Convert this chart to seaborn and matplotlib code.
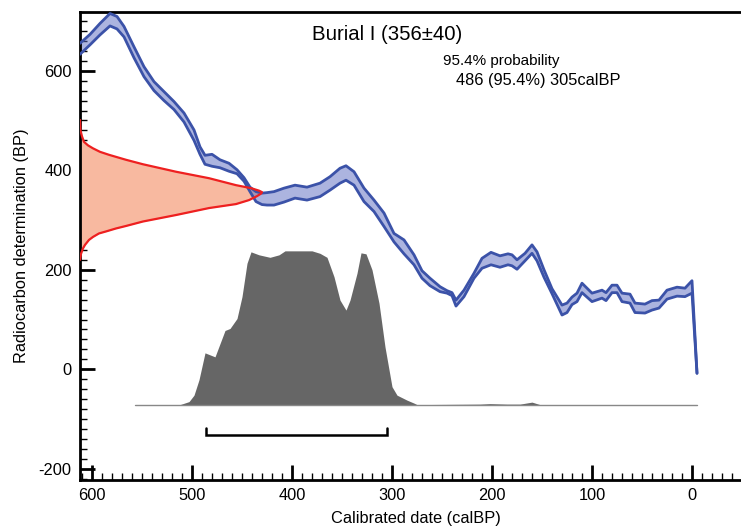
import numpy as np
import pandas as pd
import matplotlib
matplotlib.use("Agg")
import matplotlib.pyplot as plt
from matplotlib.ticker import MultipleLocator
import seaborn as sns

# ---------------- data ----------------
# calibration curve (calBP vs radiocarbon BP), upper / lower envelope
cal_years = [612, 602, 592, 582, 575, 568, 558, 548, 538, 528,
             518, 508, 498, 492, 487, 480, 472, 463, 455, 448,
             442, 436, 430, 425, 418, 408, 397, 385, 372, 362,
             352, 346, 338, 328, 318, 308, 298, 288, 278, 270,
             262, 252, 245, 240, 236, 228, 218, 210, 201, 192,
             184, 180, 175, 167, 160, 155, 148, 140, 130, 125,
             120, 115, 110, 100, 90, 86, 80, 75, 70, 62,
             57, 47, 40, 33, 25, 15, 7, 0, -5]
cal_upper = [655, 673, 695, 715, 709, 689, 648, 608, 578, 558,
             538, 515, 481, 447, 430, 432, 421, 414, 401, 385,
             366, 357, 354, 355, 357, 364, 370, 366, 374, 387,
             404, 409, 397, 364, 340, 314, 273, 260, 230, 198,
             183, 166, 158, 154, 139, 159, 193, 223, 235, 228,
             232, 230, 220, 233, 250, 236, 200, 162, 129, 133,
             145, 153, 173, 153, 159, 154, 169, 169, 153, 151,
             133, 131, 138, 139, 159, 165, 163, 178, -8]
cal_lower = [633, 652, 672, 690, 684, 668, 626, 588, 560, 540,
             522, 497, 460, 432, 412, 408, 405, 398, 393, 378,
             357, 337, 331, 330, 330, 336, 344, 340, 347, 360,
             374, 380, 370, 337, 317, 287, 256, 232, 210, 183,
             168, 156, 153, 148, 127, 146, 183, 203, 210, 205,
             210, 208, 201, 218, 233, 218, 185, 152, 109, 114,
             130, 136, 154, 136, 143, 138, 154, 154, 136, 133,
             114, 113, 119, 123, 141, 147, 146, 153, -8]

# radiocarbon determination distribution (BP value, extent in years from the axis)
red_bp = [501, 480, 468, 457, 450, 444, 437, 431, 421, 412, 397, 384, 370,
          364, 359, 356, 353, 348, 340, 332, 324, 310, 297, 288, 283,
          277, 273, 266, 260, 250, 243, 232, 220]
red_extent = [0, 0.5, 2, 4, 8, 13, 20, 29, 46, 63, 96, 129, 156,
              171, 179, 182, 181, 177, 169, 156, 129, 96, 63, 46, 36,
              26, 19, 13, 9, 5, 3, 1, 0]

# calibrated probability distribution (calBP, height above baseline)
dens_years = [557, 512, 503, 498, 493, 487, 477, 467, 462, 455,
              450, 445, 441, 433, 422, 413, 407, 398, 380, 372,
              365, 358, 352, 346, 342, 335, 331, 326, 320, 313,
              307, 300, 295, 285, 278, 275, 212, 202, 185, 172,
              160, 152, -5]
dens_height = [0, 0, 6, 19, 50, 104, 96, 149, 153, 173,
               217, 284, 307, 301, 296, 301, 309, 309, 309, 304,
               296, 257, 210, 190, 210, 264, 305, 303, 271, 204,
               116, 36, 19, 9, 3, 0, 1, 2, 1, 1,
               5, 0, 0]
dens_base = -71

# 95.4% range
range_from, range_to = 486, 305
range_y = -132

title = "Burial I (356\u00b140)"
prob_text = "95.4% probability"
range_text = "486 (95.4%) 305calBP"

# ---------------- plotting ----------------
sns.set_theme(style="ticks")
plt.rcParams["font.family"] = ["Liberation Sans", "DejaVu Sans"]
plt.rcParams["axes.unicode_minus"] = False
for k in ["text.color", "axes.labelcolor", "xtick.color", "ytick.color",
          "xtick.labelcolor", "ytick.labelcolor"]:
    plt.rcParams[k] = "black"

fig = plt.figure(figsize=(7.41, 5.27), dpi=100)
ax = fig.add_axes([80 / 741, 47 / 527, 661 / 741, 468 / 527])

XL, XR = 612, -49
ax.set_xlim(XL, XR)
ax.set_ylim(-222.5, 718)

cal = pd.DataFrame({"year": cal_years, "upper": cal_upper, "lower": cal_lower})
red = pd.DataFrame({"bp": red_bp, "x": [XL - e for e in red_extent]})
dens = pd.DataFrame({"year": dens_years,
                     "top": [dens_base + h for h in dens_height]})

# red radiocarbon distribution
ax.fill_betweenx(red["bp"], XL, red["x"], color="#f8b9a0", lw=0, zorder=1)

# calibrated density
ax.fill_between(dens["year"], dens_base, dens["top"], color="#666666", lw=0, zorder=1)
ax.plot([dens_years[0], dens_years[-1]], [dens_base, dens_base],
        color="#888888", lw=1, zorder=1)

# calibration curve band
ax.fill_between(cal["year"], cal["lower"], cal["upper"], color="#5a6ac0",
                alpha=0.5, lw=0, zorder=2)
sns.lineplot(data=cal, x="year", y="upper", sort=False, estimator=None,
             color="#3b52a8", lw=2, ax=ax, zorder=3)
sns.lineplot(data=cal, x="year", y="lower", sort=False, estimator=None,
             color="#3b52a8", lw=2, ax=ax, zorder=3)

sns.lineplot(data=red, x="x", y="bp", sort=False, estimator=None,
             color="#ee2020", lw=1.6, ax=ax, zorder=4)

# 95.4% range bracket
ax.plot([range_from, range_from, range_to, range_to],
        [range_y + 14, range_y, range_y, range_y + 14],
        color="black", lw=1.8, solid_joinstyle="miter", zorder=4)

# texts
ax.text(380, 662, title, fontsize=14.7, ha="left", va="baseline")
ax.text(249, 611.5, prob_text, fontsize=11, ha="left", va="baseline")
ax.text(236, 571, range_text, fontsize=11.8, ha="left", va="baseline")

# axes styling
ax.xaxis.set_major_locator(MultipleLocator(100))
ax.xaxis.set_minor_locator(MultipleLocator(10))
ax.yaxis.set_major_locator(MultipleLocator(200))
ax.yaxis.set_minor_locator(MultipleLocator(20))
ax.tick_params(which="major", direction="in", length=11, width=2,
               labelsize=11.8, pad=6, color="black", labelcolor="black")
ax.tick_params(which="minor", direction="in", length=5, width=1, color="black")
ax.tick_params(top=False, right=False, which="both")

for side in ["left", "bottom", "top"]:
    ax.spines[side].set_linewidth(2)
    ax.spines[side].set_color("black")
ax.spines["right"].set_visible(False)

ax.set_xlabel("Calibrated date (calBP)", fontsize=11.8)
ax.set_ylabel("Radiocarbon determination (BP)", fontsize=11.8)
ax.xaxis.set_label_coords(0.508, -0.066)
ax.yaxis.set_label_coords(-0.077, 0.5)

fig.savefig("out.png", dpi=100)
